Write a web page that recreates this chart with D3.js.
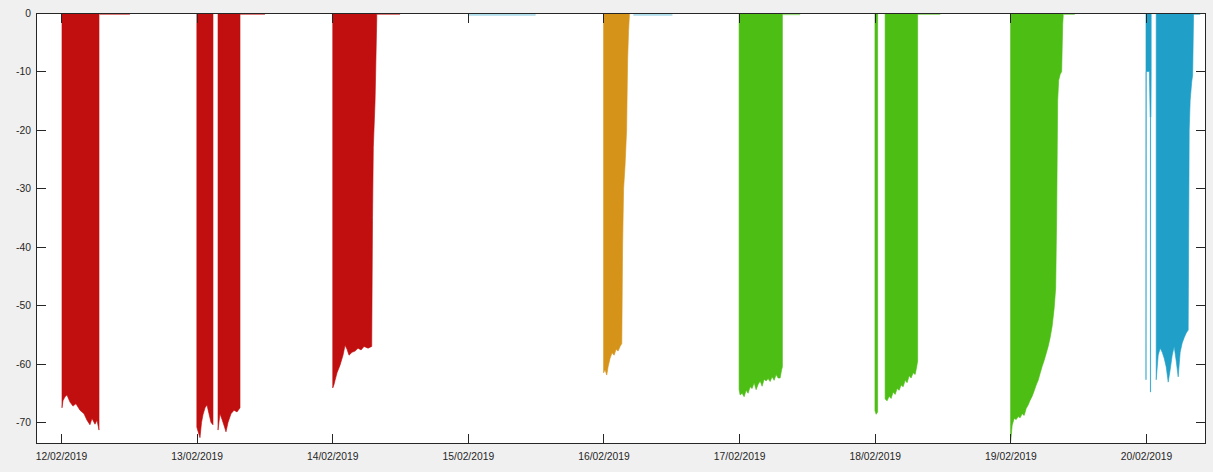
<!DOCTYPE html>
<html>
<head>
<meta charset="utf-8">
<script src="https://cdn.jsdelivr.net/npm/d3@7"></script>
<style>
  html, body { margin: 0; padding: 0; background: #f0f0f0; }
  svg { display: block; }
  text { font-family: "Liberation Sans", Arial, sans-serif; }
</style>
</head>
<body>
<svg id="chart" width="1213" height="472"></svg>
<script>
// ---------------- DATA ----------------
// x tick labels (days)
const tickDates = ["12/02/2019","13/02/2019","14/02/2019","15/02/2019","16/02/2019",
                   "17/02/2019","18/02/2019","19/02/2019","20/02/2019"];
const yTicks = [0, -10, -20, -30, -40, -50, -60, -70];

// Each burst: [hours after midnight of its day, envelope value]
const burst12 = [[0.18,-67.5],[0.35,-66.3],[0.71,-65.6],[1.06,-65.3],[1.59,-66.5],[2.12,-67.2],
  [2.65,-66.8],[3.36,-67.9],[4.07,-68.5],[4.60,-69.6],[5.13,-70.4],[5.49,-69.3],[6.02,-70.3],
  [6.37,-69.6],[6.73,-71.3]];
const burst13a = [[0.04,-70.8],[0.25,-71.5],[0.60,-72.6],[0.87,-70.0],[1.13,-68.7],[1.49,-67.5],
  [1.84,-67.0],[2.19,-68.5],[2.55,-70.0],[2.90,-70.4]];
const burst13b = [[3.79,-71.3],[4.14,-68.5],[4.50,-69.5],[4.85,-70.5],[5.20,-71.6],[5.56,-70.0],
  [6.09,-68.5],[6.62,-67.9],[7.15,-68.2],[7.68,-67.5]];
const burst14 = [[0.09,-64.1],[0.32,-63.5],[0.50,-62.8],[0.85,-61.5],[1.38,-60.2],[1.91,-58.5],
  [2.27,-56.8],[2.62,-57.5],[2.97,-58.5],[3.50,-58.0],[4.04,-57.8],[4.57,-57.3],[5.10,-57.6],
  [5.63,-57.0],[6.34,-57.3],[6.99,-57.0],[7.13,-35.0],[7.27,-23.0],[7.58,-15.0],[7.88,-1.0]];
const burst16 = [[0.02,-61.5],[0.28,-61.0],[0.58,-61.9],[0.81,-60.5],[1.17,-59.0],[1.52,-58.1],
  [1.88,-58.5],[2.23,-57.5],[2.58,-57.8],[2.94,-57.0],[3.24,-56.5],[3.38,-40.0],[3.56,-30.0],
  [3.82,-26.0],[4.09,-20.0],[4.27,-8.0],[4.44,-3.0],[4.58,-0.5]];
const burst17 = [[0.0,-64.4],[0.18,-65.3],[0.53,-65.0],[0.89,-65.6],[1.24,-64.5],[1.59,-65.0],
  [1.95,-63.9],[2.30,-64.2],[2.66,-63.2],[3.01,-64.4],[3.36,-63.5],[3.72,-62.9],[4.07,-63.8],
  [4.43,-62.6],[4.78,-62.9],[5.13,-62.5],[5.49,-63.0],[5.84,-62.2],[6.20,-62.8],[6.55,-61.8],
  [6.90,-62.4],[7.26,-62.4],[7.52,-61.0],[7.66,-60.5]];
const burst18a = [[0.04,-68.0],[0.25,-68.6],[0.51,-68.2]];
const burst18b = [[1.84,-66.0],[2.19,-66.3],[2.55,-65.5],[2.90,-65.9],[3.26,-64.8],[3.61,-65.2],
  [3.96,-64.2],[4.32,-64.5],[4.67,-63.6],[5.03,-63.9],[5.38,-62.8],[5.73,-63.2],[6.09,-62.0],
  [6.44,-62.4],[6.80,-61.5],[7.15,-61.8],[7.42,-60.5],[7.59,-59.5]];
const burst19 = [[0.04,-73.3],[0.18,-72.0],[0.32,-70.5],[0.67,-69.3],[1.03,-69.5],[1.38,-69.0],
  [1.73,-69.2],[2.09,-68.5],[2.44,-68.8],[2.80,-67.6],[3.15,-67.0],[3.50,-66.2],[3.86,-65.5],
  [4.21,-64.6],[4.57,-63.6],[4.92,-62.8],[5.27,-61.6],[5.63,-60.4],[5.98,-59.4],[6.34,-58.2],
  [6.69,-57.0],[7.04,-55.5],[7.40,-53.5],[7.75,-50.5],[8.02,-47.0],[8.19,-35.0],[8.37,-15.0],
  [8.55,-11.5],[8.81,-10.5],[9.08,-10.0],[9.26,-2.0],[9.35,-0.5]];
const burst20a = [[0.0,-62.7],[0.04,-10.0],[0.60,-10.0],[0.74,-17.8],[0.78,-17.8],[0.78,-64.8],
  [0.82,-64.8],[0.82,-17.8],[0.88,-17.8],[0.92,-10.0]];
const burst20b = [[1.81,-62.7],[2.16,-58.5],[2.51,-57.3],[2.87,-58.0],[3.22,-59.0],[3.58,-60.5],
  [3.93,-63.1],[4.28,-61.0],[4.64,-58.5],[4.99,-57.0],[5.35,-59.5],[5.70,-62.2],[6.05,-58.0],
  [6.41,-56.4],[6.76,-55.5],[7.12,-54.7],[7.47,-54.2],[7.65,-20.0],[7.82,-14.9],[8.09,-11.8],
  [8.26,-10.6],[8.41,-1.0]];

// Near-zero traces after bursts: [day index, from hour, to hour, value]
const tailRed   = [[0, 6.8, 12.2, -0.15],[1, 7.7, 12.1, -0.15],[2, 7.9, 12.0, -0.15]];
const tailBlue  = [[3, 0.05, 12.0, -0.25],[4, 5.3, 12.2, -0.25],[8, 8.4, 9.6, -0.15]];
const tailGreen = [[5, 7.7, 10.8, -0.2],[6, 7.6, 11.6, -0.15],[7, 9.4, 11.4, -0.15]];

// ---------------- STYLE ----------------
const RED = "#c10e0e", ORANGE = "#d6931a", GREEN = "#4cbe14", BLUE = "#20a0c8";
const W = 1213, H = 472;
const m = {left: 36, top: 13, right: 7, bottom: 28};
const AX = "#262626";

const bursts = [
  {day: 0, color: RED, pts: burst12},
  {day: 1, color: RED, pts: burst13a},
  {day: 1, color: RED, pts: burst13b},
  {day: 2, color: RED, pts: burst14},
  {day: 4, color: ORANGE, pts: burst16},
  {day: 5, color: GREEN, pts: burst17},
  {day: 6, color: GREEN, pts: burst18a},
  {day: 6, color: GREEN, pts: burst18b},
  {day: 7, color: GREEN, pts: burst19},
  {day: 8, color: BLUE, pts: burst20a},
  {day: 8, color: BLUE, pts: burst20b}
];
const tails = [
  ...tailRed.map(t => ({t, color: RED})),
  ...tailBlue.map(t => ({t, color: BLUE})),
  ...tailGreen.map(t => ({t, color: GREEN}))
];

const parseDay = d3.timeParse("%d/%m/%Y");
const days = tickDates.map(parseDay);
const at = (dayIdx, hours) => new Date(days[dayIdx].getTime() + hours * 3600e3);

const svg = d3.select("#chart");
const pw = W - m.left - m.right, ph = H - m.top - m.bottom;

const x = d3.scaleTime()
  .domain([at(0, -4.42), at(8, 10.62)])
  .range([m.left, W - m.right]);
const y = d3.scaleLinear()
  .domain([-73.68, 0])
  .range([H - m.bottom, m.top]);

svg.append("rect").attr("width", W).attr("height", H).attr("fill", "#f0f0f0");
svg.append("rect").attr("x", m.left).attr("y", m.top).attr("width", pw).attr("height", ph).attr("fill", "#ffffff");

svg.append("clipPath").attr("id", "clip")
  .append("rect").attr("x", m.left).attr("y", m.top).attr("width", pw).attr("height", ph);

const g = svg.append("g").attr("clip-path", "url(#clip)");

const area = d3.area()
  .x(d => x(d.t))
  .y0(y(0))
  .y1(d => y(d.v));

bursts.forEach(b => {
  const pts = b.pts.map(p => ({t: at(b.day, p[0]), v: p[1]}));
  const first = {t: pts[0].t, v: 0};
  const last = {t: pts[pts.length - 1].t, v: 0};
  const all = [first, ...pts, last];
  g.append("path")
    .attr("d", area(all))
    .attr("fill", b.color)
    .attr("stroke", b.color)
    .attr("stroke-width", 0.6)
    .attr("stroke-linejoin", "round");
});

tails.forEach(({t, color}) => {
  g.append("line")
    .attr("x1", x(at(t[0], t[1]))).attr("x2", x(at(t[0], t[2])))
    .attr("y1", y(t[3]) + 0.5).attr("y2", y(t[3]) + 0.5)
    .attr("stroke", color).attr("stroke-width", 0.8).attr("stroke-opacity", 0.8);
});

// ---------------- AXES ----------------
const fmt = d3.timeFormat("%d/%m/%Y");
const yFmt = d => String(d);

const xBottom = svg.append("g")
  .attr("transform", `translate(0,${H - m.bottom})`)
  .call(d3.axisBottom(x).tickValues(days).tickFormat(fmt).tickSizeInner(-10).tickSizeOuter(0).tickPadding(9));
const xTop = svg.append("g")
  .attr("transform", `translate(0,${m.top})`)
  .call(d3.axisTop(x).tickValues(days).tickFormat("").tickSizeInner(-10).tickSizeOuter(0));
const yLeft = svg.append("g")
  .attr("transform", `translate(${m.left},0)`)
  .call(d3.axisLeft(y).tickValues(yTicks).tickFormat(yFmt).tickSizeInner(-10).tickSizeOuter(0).tickPadding(5));
const yRight = svg.append("g")
  .attr("transform", `translate(${W - m.right},0)`)
  .call(d3.axisRight(y).tickValues(yTicks).tickFormat("").tickSizeInner(-10).tickSizeOuter(0));

[xBottom, xTop, yLeft, yRight].forEach(a => {
  a.select(".domain").remove();
  a.selectAll(".tick line").attr("stroke", AX).attr("stroke-width", 1).attr("shape-rendering", "crispEdges");
  a.selectAll(".tick text").attr("fill", "#262626").style("font-size", "10.3px")
    .style("font-family", '"Liberation Sans", Arial, sans-serif');
});

svg.append("rect")
  .attr("x", m.left + 0.5).attr("y", m.top + 0.5)
  .attr("width", pw - 1).attr("height", ph - 1)
  .attr("fill", "none").attr("stroke", AX).attr("stroke-width", 1)
  .attr("shape-rendering", "crispEdges");
</script>
</body>
</html>
